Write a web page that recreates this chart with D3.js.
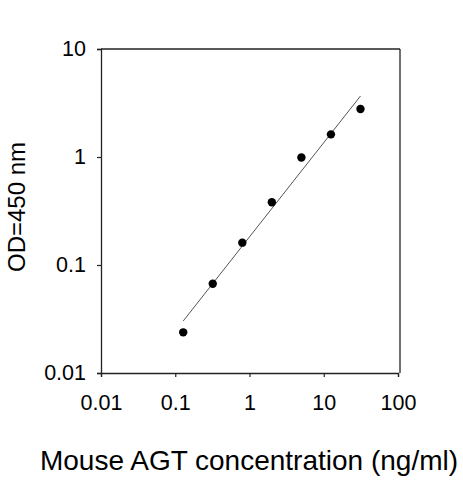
<!DOCTYPE html>
<html>
<head>
<meta charset="utf-8">
<script src="https://cdn.jsdelivr.net/npm/d3@7"></script>
<style>
  body { margin: 0; background: #fff; }
  text { font-family: "Liberation Sans", Arial, sans-serif; fill: #000; }
</style>
</head>
<body>
<div id="chart"></div>
<script>
// standard curve values
var concentration = [0.128, 0.32, 0.8, 2, 5, 12.5, 31.25];
var od450 = [0.0238, 0.067, 0.161, 0.381, 0.99, 1.62, 2.78];
// fitted line, evaluated at the first and last concentration
var fitX = [0.128, 31.25];
var fitY = [0.0303, 3.67];
var xTicks = [0.01, 0.1, 1, 10, 100];
var yTicks = [0.01, 0.1, 1, 10];

var svg = d3.select("div#chart").append("svg")
    .attr("width", 463)
    .attr("height", 480),
    margin = {top: 49, right: 65, bottom: 107, left: 101},
    width = 463 - margin.left - margin.right,
    height = 480 - margin.top - margin.bottom;

var x = d3.scaleLog().domain([0.01, 100]).range([0, width]);
var y = d3.scaleLog().domain([0.01, 10]).range([height, 0]);

var g = svg.append("g").attr("transform", "translate(" + margin.left + "," + margin.top + ")");

function fmt(d) { return d < 1 ? String(d) : d3.format("d")(d); }

// axes
var xAxis = g.append("g")
    .attr("transform", "translate(0," + height + ")")
    .call(d3.axisBottom(x).tickValues(xTicks).tickFormat(fmt).tickSize(4).tickPadding(18));

var yAxis = g.append("g")
    .call(d3.axisLeft(y).tickValues(yTicks).tickFormat(fmt).tickSize(4).tickPadding(11));

[xAxis, yAxis].forEach(function(a) {
  a.select(".domain").attr("stroke", "#222").attr("stroke-width", 1.3);
  a.selectAll(".tick line").attr("stroke", "#222").attr("stroke-width", 1.2);
  a.selectAll(".tick text").attr("font-size", 21.5).attr("font-family", "Liberation Sans, Arial, sans-serif").attr("fill", "#000");
});

// top and right frame
g.append("line").attr("x1", 0).attr("x2", width + 2).attr("y1", 0).attr("y2", 0)
    .attr("stroke", "#222").attr("stroke-width", 1.3);
g.append("line").attr("x1", width + 2).attr("x2", width + 2).attr("y1", 0).attr("y2", height)
    .attr("stroke", "#222").attr("stroke-width", 1.3);

// fit line
g.append("line")
    .attr("x1", x(fitX[0])).attr("y1", y(fitY[0]))
    .attr("x2", x(fitX[1])).attr("y2", y(fitY[1]))
    .attr("stroke", "#555").attr("stroke-width", 1);

// points
g.selectAll("circle")
    .data(concentration)
    .enter().append("circle")
      .attr("cx", function(d) { return x(d); })
      .attr("cy", function(d, i) { return y(od450[i]); })
      .attr("r", 4.2)
      .attr("fill", "#000");

// axis titles
svg.append("text")
    .attr("x", 249)
    .attr("y", 470)
    .attr("text-anchor", "middle")
    .attr("font-size", 28)
    .text("Mouse AGT concentration (ng/ml)");

svg.append("text")
    .attr("transform", "translate(25,207) rotate(-90)")
    .attr("text-anchor", "middle")
    .attr("font-size", 24)
    .text("OD=450 nm");
</script>
</body>
</html>
